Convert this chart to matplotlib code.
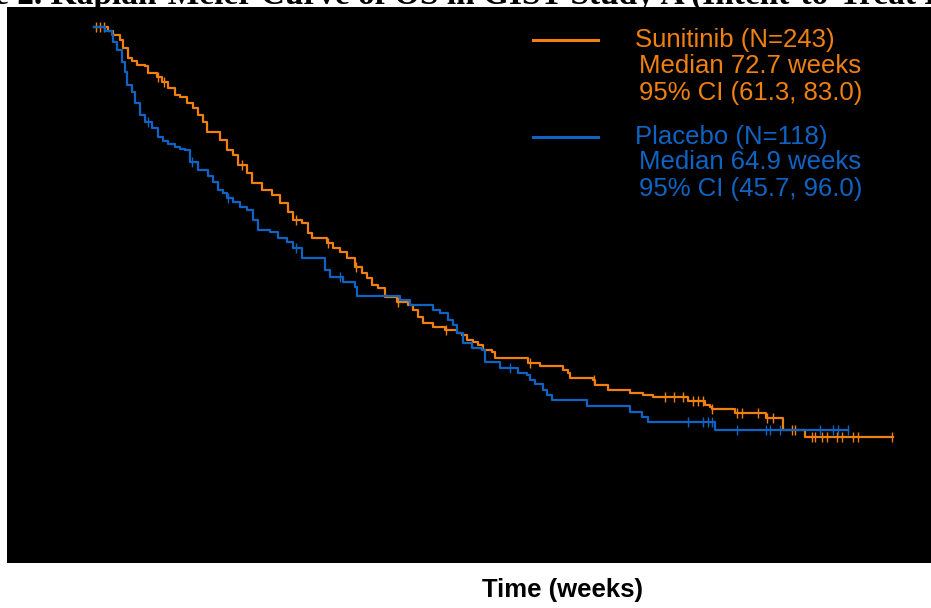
import numpy as np
import matplotlib
matplotlib.use("Agg")
import matplotlib.pyplot as plt

# Kaplan-Meier step data (weeks, survival probability)
sun_t = [0, 3.5, 4.75, 6.5, 7.25, 8.5, 9.5, 10.75, 12.75, 13.5,
         15.75, 17, 18.5, 20.25, 21.5, 23.25, 24.75, 26, 27.25, 28.25,
         31.5, 33.25, 34.75, 36, 38.25, 39.5, 42, 44.5, 46.5, 48.5,
         49.75, 52, 53.5, 54.5, 58.25, 59.75, 61.5, 63.25, 65.25, 67,
         68.25, 69.5, 71, 72.75, 75.75, 78.5, 79.75, 81, 82.25, 84.75,
         87.75, 90.75, 92, 93.25, 94.75, 96, 97.25, 99.5, 100.25, 108.5,
         111.5, 117.25, 118.5, 119, 124.75, 125.25, 128.5, 134, 137.25, 139.75,
         148.5, 152.75, 154, 154.5, 160.25, 168, 172.25, 177.75, 199.75]
sun_s = [1.0, 0.993, 0.985, 0.976, 0.961, 0.942, 0.937, 0.929, 0.927, 0.914,
         0.907, 0.897, 0.886, 0.873, 0.869, 0.858, 0.849, 0.836, 0.823, 0.804,
         0.789, 0.771, 0.761, 0.743, 0.728, 0.709, 0.696, 0.687, 0.672, 0.655,
         0.640, 0.634, 0.616, 0.606, 0.597, 0.588, 0.580, 0.569, 0.552, 0.541,
         0.532, 0.519, 0.513, 0.496, 0.487, 0.481, 0.472, 0.459, 0.448, 0.440,
         0.435, 0.429, 0.425, 0.416, 0.412, 0.407, 0.397, 0.394, 0.382, 0.373,
         0.368, 0.360, 0.354, 0.345, 0.341, 0.332, 0.323, 0.317, 0.313, 0.310,
         0.302, 0.295, 0.291, 0.287, 0.280, 0.271, 0.248, 0.235, 0.235]
sun_cens = [0.5, 1.5, 2.5, 16, 17.5, 37, 50.5, 58.5, 65.5, 76, 88, 109, 125,
            142.75, 145, 147.25, 149.75, 151, 152.25, 154.5, 160.75, 162, 166,
            168.25, 169.75, 174.5, 175.25, 179.5, 180.25, 182, 183.25, 185.75,
            187, 189.75, 191, 199.5]

pla_t = [0, 2.75, 4.5, 4.75, 5.75, 7, 7.75, 8.25, 9.5, 10.25,
         11.5, 12.75, 14.5, 16, 17.25, 18.5, 20.25, 21.5, 22.75, 24,
         26, 28.5, 29.75, 31, 32.25, 33.25, 34.75, 36.5, 38.25, 39.75,
         41, 44, 46, 48.25, 49.75, 52, 57.75, 59, 62.25, 65.25,
         65.75, 76.5, 79, 84.75, 86.5, 88.5, 89.75, 90.75, 92.25, 94.5,
         97, 97.75, 101.5, 106, 108.25, 109, 110.25, 112.25, 113.25, 114.5,
         123.25, 134, 137, 138.5, 155.25, 188.5]
pla_s = [1.0, 0.993, 0.985, 0.972, 0.957, 0.935, 0.916, 0.892, 0.879, 0.858,
         0.836, 0.823, 0.812, 0.795, 0.787, 0.782, 0.776, 0.772, 0.771, 0.748,
         0.733, 0.722, 0.711, 0.696, 0.690, 0.681, 0.674, 0.664, 0.658, 0.640,
         0.621, 0.618, 0.606, 0.599, 0.588, 0.569, 0.547, 0.534, 0.524, 0.515,
         0.498, 0.491, 0.481, 0.472, 0.466, 0.453, 0.444, 0.429, 0.410, 0.401,
         0.397, 0.375, 0.364, 0.354, 0.351, 0.341, 0.334, 0.323, 0.313, 0.304,
         0.293, 0.282, 0.272, 0.263, 0.248, 0.248]
pla_cens = [13.5, 24.5, 33.5, 50.5, 61.5, 104, 148.5, 152.25, 153.5, 154.5,
            160.75, 168, 169, 171.5, 181.5, 184.75, 186, 188.5]

sun_label = ["Sunitinib (N=243)", "Median 72.7 weeks", "95% CI (61.3, 83.0)"]
pla_label = ["Placebo (N=118)", "Median 64.9 weeks", "95% CI (45.7, 96.0)"]

ORANGE = "#F08010"
BLUE = "#0F64C3"


def surv_at(times, surv, x):
    idx = np.searchsorted(times, x, side="right") - 1
    return np.asarray(surv)[idx]


fig = plt.figure(figsize=(9.31, 6.08), dpi=100)
ax = fig.add_axes([6.5 / 931, 45 / 608, 924.5 / 931, 556 / 608])
ax.set_facecolor("black")
for sp in ax.spines.values():
    sp.set_visible(False)
ax.set_xticks([])
ax.set_yticks([])

for t, s, cens, col in [(sun_t, sun_s, sun_cens, ORANGE),
                        (pla_t, pla_s, pla_cens, BLUE)]:
    ax.step(t, s, where="post", color=col, lw=1.6)
    ax.plot(cens, surv_at(t, s, cens), ls="none", marker="|",
            ms=7, mew=1.0, color=col)

ax.set_xlim(-21.9, 209.25)
ax.set_ylim(0, 1.0373)

# legend drawn by hand
for ycol, lab, col in [(0.940, sun_label, ORANGE), (0.767, pla_label, BLUE)]:
    ax.plot([0.5695, 0.640], [ycol, ycol], transform=ax.transAxes,
            color=col, lw=2.2)
    ax.text(0.680, ycol, lab[0], transform=ax.transAxes, color=col,
            fontsize=18.5, family="Liberation Sans", va="center")
    ax.text(0.684, ycol - 0.046, lab[1], transform=ax.transAxes, color=col,
            fontsize=18.5, family="Liberation Sans", va="center")
    ax.text(0.684, ycol - 0.094, lab[2], transform=ax.transAxes, color=col,
            fontsize=18.5, family="Liberation Sans", va="center")

fig.text(563 / 931, 10.7 / 608, "Time (weeks)", ha="center", va="baseline",
         fontsize=18.5, fontweight="bold", family="Liberation Sans")
fig.text(-85 / 931, 1 - 4 / 608,
         "Figure 2. Kaplan-Meier Curve of OS in GIST Study A (Intent-to-Treat Population)",
         ha="left", va="baseline", fontsize=24, fontweight="bold",
         family="Liberation Serif")

fig.savefig("out.png", dpi=100)
